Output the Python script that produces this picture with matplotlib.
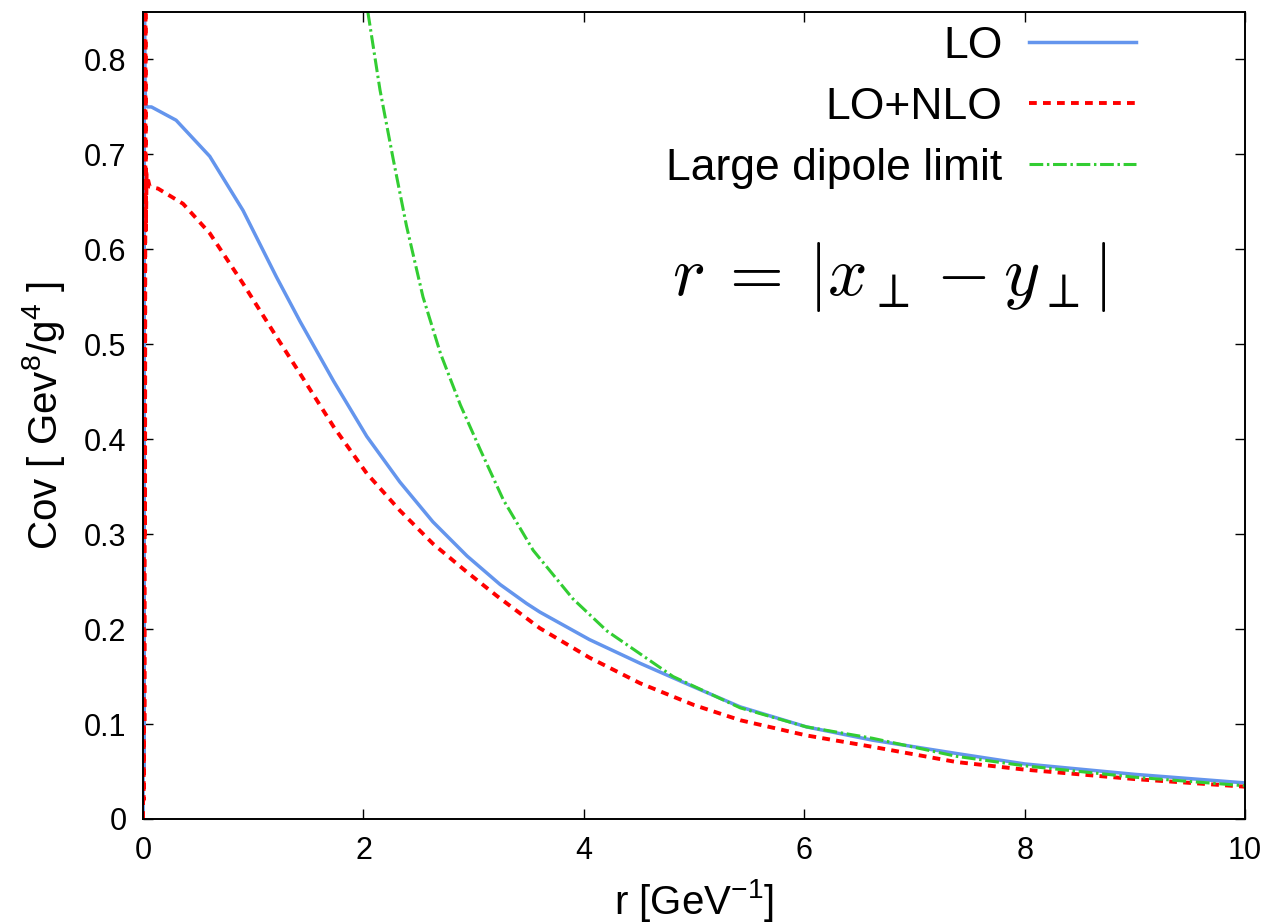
import numpy as np
import matplotlib
matplotlib.use('Agg')
import matplotlib.pyplot as plt

plt.rcParams['font.family'] = ['Liberation Sans', 'DejaVu Sans']
plt.rcParams['mathtext.fontset'] = 'custom'
plt.rcParams['mathtext.rm'] = 'Liberation Sans'
plt.rcParams['mathtext.it'] = 'Liberation Sans:italic'
plt.rcParams['mathtext.default'] = 'rm'

# LO covariance vs dipole size r (noisy spike at r -> 0)
r_lo = [0.0, 0.004, 0.008, 0.012, 0.018, 0.025, 0.04, 0.076, 0.30, 0.605, 0.907,
        1.21, 1.425, 1.73, 2.03, 2.33, 2.63, 2.94, 3.24, 3.48, 3.60, 4.05, 4.51, 5.0,
        5.42, 6.02, 6.62, 7.38, 8.0, 9.0, 10.0]
cov_lo = [0.0, 0.88, 0.05, 0.88, 0.77, 0.752, 0.750, 0.750, 0.736, 0.698, 0.641,
          0.571, 0.524, 0.461, 0.403, 0.355, 0.313, 0.277, 0.247, 0.227, 0.218, 0.189,
          0.164, 0.139, 0.118, 0.097, 0.083, 0.069, 0.058, 0.047, 0.038]

# LO+NLO covariance
r_nlo = [0.0, 0.003, 0.006, 0.009, 0.012, 0.015, 0.018, 0.022, 0.026, 0.032, 0.06,
         0.136, 0.363, 0.605, 0.907, 1.21, 1.425, 1.73, 2.03, 2.33, 2.63, 2.94, 3.21,
         3.60, 4.05, 4.51, 5.0, 5.42, 6.02, 6.62, 7.38, 8.0, 9.0, 10.0]
cov_nlo = [0.0, 0.9, 0.02, 0.9, 0.1, 0.9, 0.3, 0.86, 0.62, 0.68, 0.666, 0.664, 0.648,
           0.617, 0.564, 0.508, 0.469, 0.413, 0.364, 0.325, 0.290, 0.260, 0.235, 0.201,
           0.170, 0.143, 0.120, 0.104, 0.088, 0.076, 0.060, 0.052, 0.042, 0.034]

# large dipole limit
r_ld = [2.04, 2.15, 2.27, 2.39, 2.54, 2.70, 2.88, 3.06, 3.27, 3.54, 3.90, 4.21, 4.81,
        5.42, 6.02, 6.62, 7.38, 8.0, 9.0, 10.0]
cov_ld = [0.85, 0.768, 0.695, 0.625, 0.550, 0.490, 0.436, 0.389, 0.336, 0.283, 0.232,
          0.198, 0.150, 0.117, 0.097, 0.085, 0.066, 0.056, 0.044, 0.035]

x_ticks = [0, 2, 4, 6, 8, 10]
y_ticks = [0, 0.1, 0.2, 0.3, 0.4, 0.5, 0.6, 0.7, 0.8]
y_ticklabels = ['0', '0.1', '0.2', '0.3', '0.4', '0.5', '0.6', '0.7', '0.8']

fig = plt.figure(figsize=(12.75, 9.23), dpi=100)
ax = fig.add_axes([0.1122, 0.1127, 0.8643, 0.8743])

ax.plot(r_lo, cov_lo, color='#6495ED', lw=2.5, label='LO')
ax.plot(r_nlo, cov_nlo, color='#FF0000', lw=2.8, linestyle=(0, (2.0, 1.6)),
        label='LO+NLO')
ax.plot(r_ld, cov_ld, color='#32CD32', lw=2.2, linestyle=(0, (4.5, 1.2, 0.8, 1.2)),
        label='Large dipole limit')

ax.set_xlim(0, 10)
ax.set_ylim(0, 0.85)
ax.set_xticks(x_ticks)
ax.set_yticks(y_ticks)
ax.set_yticklabels(y_ticklabels)
ax.tick_params(direction='in', length=7, width=1, labelsize=22, pad=12,
               top=True, right=True)
for sp in ax.spines.values():
    sp.set_linewidth(1.4)

ax.set_xlabel('r [GeV$^{-1}$]', fontsize=29, labelpad=8)
ax.set_ylabel('Cov [ Gev$^{8}$/g$^{4}$ ]', fontsize=29, labelpad=12)

leg = ax.legend(loc='upper right', bbox_to_anchor=(0.901, 0.983), frameon=False,
                markerfirst=False, fontsize=32, handlelength=2.4,
                handletextpad=0.6, labelspacing=0.45, borderpad=0,
                borderaxespad=0)

ax.text(0.48, 0.649,
        r'$\mathit{r}\:=\:|\mathit{x}_\perp\:-\:\mathit{y}_\perp|$',
        transform=ax.transAxes, fontsize=50, math_fontfamily='cm',
        va='baseline', ha='left')

fig.savefig('out.png', dpi=100)
